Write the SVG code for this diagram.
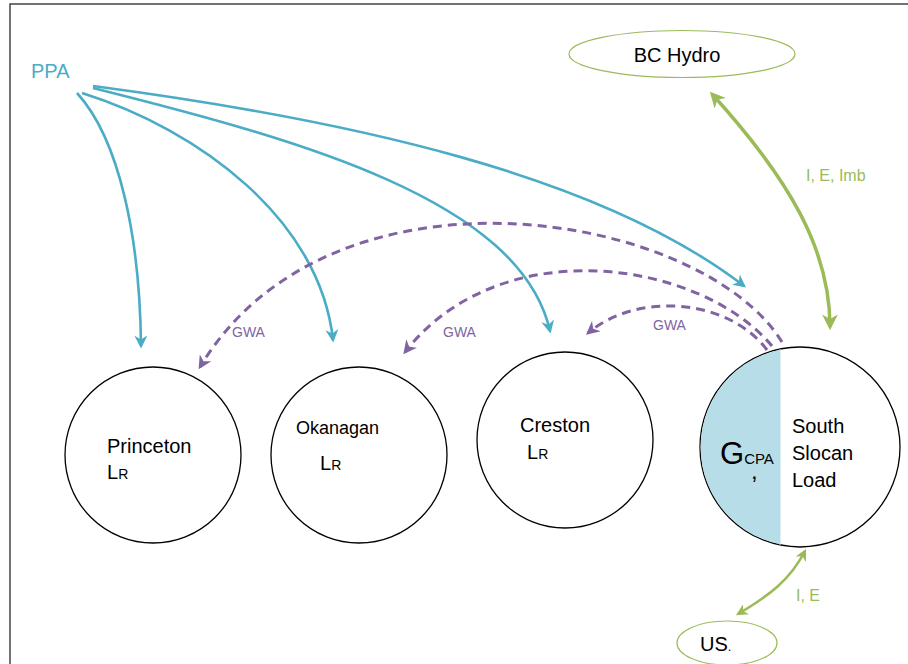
<svg xmlns="http://www.w3.org/2000/svg" width="908" height="664" viewBox="0 0 908 664">
<style>
text{font-family:"Liberation Sans",Arial,sans-serif;}
.lbl{font-size:20px;fill:#000;}
.sub{font-size:14px;}
.node{fill:#fff;stroke:#000;stroke-width:1.3;}
.ext{fill:#fff;stroke:#9BBB59;stroke-width:1.2;}
.ppa{fill:none;stroke:#4BACC6;stroke-width:2.6;marker-end:url(#ab);}
.gwa{fill:none;stroke:#8064A2;stroke-width:3;stroke-dasharray:9 6;marker-end:url(#ap);}
.grn{fill:none;stroke:#9BBB59;marker-start:url(#ags);marker-end:url(#age);}
.gt{fill:#9BBB59;font-size:16px;}
.pt{fill:#8064A2;font-size:14px;}
</style>
<defs>
<marker id="ab" viewBox="0 0 10 10" refX="8" refY="5" markerWidth="5" markerHeight="5" markerUnits="strokeWidth" orient="auto"><path d="M0,0 L10,5 L0,10 L3,5 Z" fill="#4BACC6"/></marker>
<marker id="ap" viewBox="0 0 10 10" refX="8" refY="5" markerWidth="4.5" markerHeight="4.5" markerUnits="strokeWidth" orient="auto"><path d="M0,0 L10,5 L0,10 L3,5 Z" fill="#8064A2"/></marker>
<marker id="age" viewBox="0 0 10 10" refX="8" refY="5" markerWidth="4.5" markerHeight="4.5" markerUnits="strokeWidth" orient="auto"><path d="M0,0 L10,5 L0,10 L3,5 Z" fill="#9BBB59"/></marker>
<marker id="ags" viewBox="0 0 10 10" refX="2" refY="5" markerWidth="4.5" markerHeight="4.5" markerUnits="strokeWidth" orient="auto"><path d="M10,0 L0,5 L10,10 L7,5 Z" fill="#9BBB59"/></marker>
<clipPath id="cl"><rect x="690" y="340" width="90" height="220"/></clipPath>
</defs>
<g id="frame" stroke="#444" stroke-width="1.5" fill="none"><path d="M10,664 V4 H908"/></g>

<g id="princeton"><circle class="node" cx="153" cy="455" r="88"/><text class="lbl" x="107" y="453">Princeton</text><text class="lbl" x="107" y="479">L<tspan class="sub">R</tspan></text></g>
<g id="okanagan"><circle class="node" cx="359" cy="455" r="88"/><text class="lbl" x="296" y="434" style="font-size:18px">Okanagan</text><text class="lbl" x="320" y="470">L<tspan class="sub">R</tspan></text></g>
<g id="creston"><circle class="node" cx="565" cy="440" r="88"/><text class="lbl" x="520" y="432">Creston</text><text class="lbl" x="527" y="459">L<tspan class="sub">R</tspan></text></g>
<g id="southslocan"><circle class="node" cx="800" cy="447" r="100"/><circle cx="800" cy="447" r="99.4" fill="#B7DDE8" clip-path="url(#cl)"/><line x1="780" y1="349" x2="780" y2="545" stroke="#B7DDE8" stroke-width="1"/><text class="lbl" x="720" y="464" style="font-size:31px">G<tspan style="font-size:15px">CPA</tspan><tspan x="751" dy="15" style="font-size:24px">,</tspan></text><text class="lbl" x="792" y="433">South</text><text class="lbl" x="792" y="460">Slocan</text><text class="lbl" x="792" y="487">Load</text></g>
<g id="bchydro"><ellipse class="ext" cx="682" cy="54" rx="113" ry="23.5"/><text class="lbl" x="677" y="62" text-anchor="middle">BC Hydro</text></g>
<g id="us"><ellipse class="ext" cx="727" cy="643" rx="50" ry="22"/><text class="lbl" x="700" y="651">US<tspan style="font-size:13px">.</tspan></text></g>
<g id="ppa"><text x="31" y="78" style="font-size:20px;fill:#4BACC6">PPA</text></g>

<g id="connectors">
<path class="ppa" d="M77,93 C120,140 140,240 141,346"/>
<path class="ppa" d="M82,93 C200,130 320,220 333,340"/>
<path class="ppa" d="M93,88 C300,140 520,200 550,331"/>
<path class="ppa" d="M93,86 C350,120 600,175 744,286"/>
<path class="gwa" d="M782,342 C700,210 330,150 200,367"/>
<path class="gwa" d="M772,346 C700,260 500,230 405,352"/>
<path class="gwa" d="M767,350 C730,300 640,290 588,333"/>
<path class="grn" stroke-width="3.5" d="M712,94 C790,180 830,250 830,327"/>
<path class="grn" stroke-width="2.6" d="M738,614 C770,595 790,580 805,551"/>
<text class="gt" x="806" y="181">I, E, Imb</text>
<text class="gt" x="796" y="601">I, E</text>
<text class="pt" x="232" y="337">GWA</text>
<text class="pt" x="443" y="337">GWA</text>
<text class="pt" x="653" y="330">GWA</text>
</g>
</svg>
